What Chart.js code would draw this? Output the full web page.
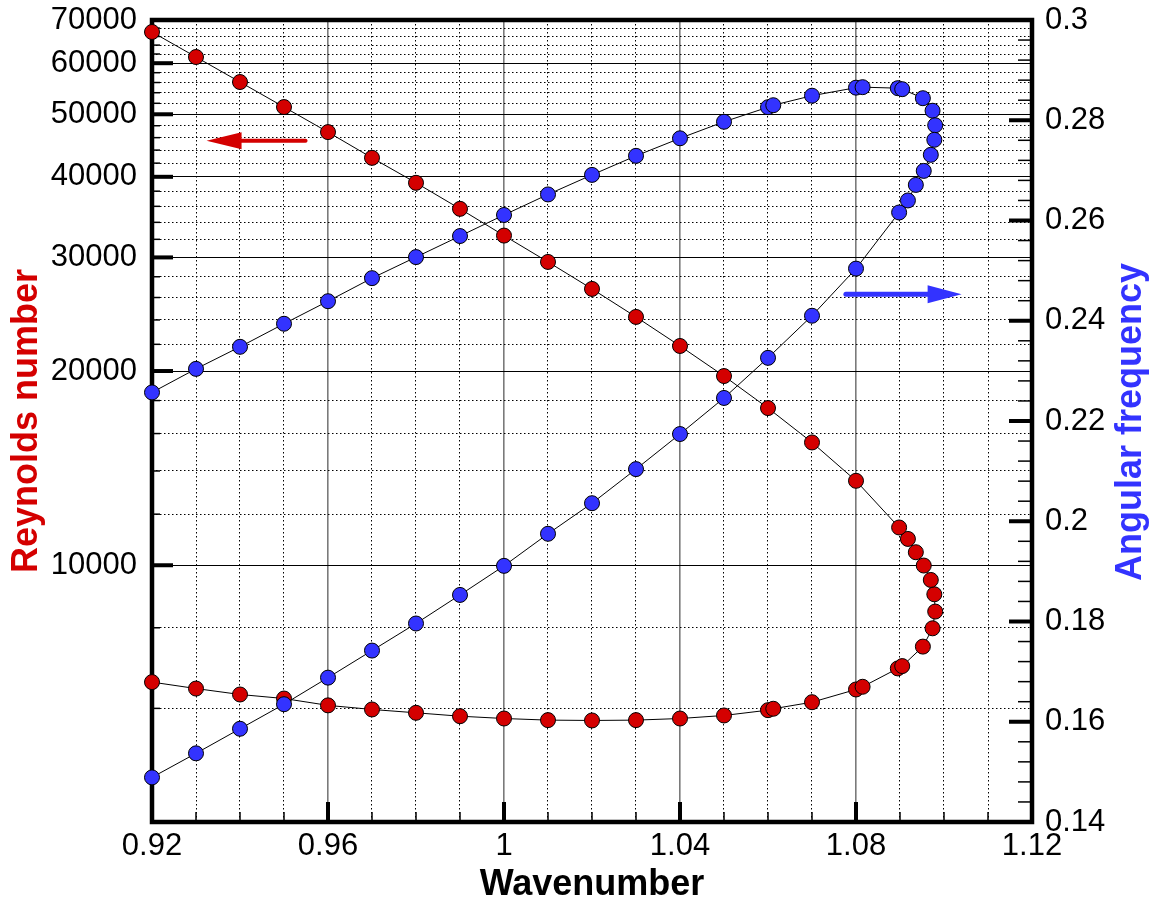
<!DOCTYPE html>
<html>
<head>
<meta charset="utf-8">
<script src="https://cdn.jsdelivr.net/npm/chart.js@4.4.0/dist/chart.umd.min.js"></script>
<style>
  html, body { margin: 0; padding: 0; background: #fff; }
  #wrap { width: 1162px; height: 903px; }
</style>
</head>
<body>
<div id="wrap"><canvas id="chart" width="1162" height="903"></canvas></div>
<script>
// Neutral curve, walked from the low-Re branch at k=0.92, round the nose, back along the high-Re branch
const wavenumber = [
  0.92, 0.93, 0.94, 0.95, 0.96, 0.97, 0.98, 0.99, 1.00, 1.01, 1.02, 1.03, 1.04, 1.05, 1.06, 1.0612, 1.07, 1.08, 1.0815,
  1.0895, 1.0905, 1.0952, 1.0974, 1.0980, 1.0978, 1.0970, 1.0954, 1.0936, 1.0918, 1.0898,
  1.08, 1.07, 1.06, 1.05, 1.04, 1.03, 1.02, 1.01, 1.00, 0.99, 0.98, 0.97, 0.96, 0.95, 0.94, 0.93, 0.92
];
const reynolds = [
  6590, 6440, 6305, 6215, 6065, 5977, 5906, 5835, 5787, 5754, 5747, 5754, 5787, 5850, 5962, 5992, 6134, 6419, 6481,
  6920, 6978, 7480, 7985, 8477, 9016, 9489, 9990, 10476, 10985, 11443,
  13517, 15500, 17523, 19645, 21870, 24260, 26810, 29520, 32430, 35680, 39150, 42800, 46920, 51310, 56100, 61340, 67070
];
const omega = [
  0.2257, 0.2304, 0.2348, 0.2394, 0.2439, 0.2485, 0.2527, 0.2569, 0.2611, 0.2652, 0.2691, 0.2729, 0.2764, 0.2797, 0.2826, 0.2830, 0.2849, 0.2865, 0.2866,
  0.2864, 0.2862, 0.2844, 0.2819, 0.2790, 0.2761, 0.2731, 0.2699, 0.2671, 0.2640, 0.2616,
  0.2504, 0.2410, 0.2326, 0.2246, 0.2174, 0.2104, 0.2036, 0.1975, 0.1911, 0.1853, 0.1796, 0.1742, 0.1688, 0.1635, 0.1586, 0.1537, 0.1489
];

const xLabelTicks = [0.92, 0.96, 1.00, 1.04, 1.08, 1.12];
const xMinorTicks = [0.93, 0.94, 0.95, 0.97, 0.98, 0.99, 1.01, 1.02, 1.03, 1.05, 1.06, 1.07, 1.09, 1.10, 1.11];
const reLabelTicks = [10000, 20000, 30000, 40000, 50000, 60000, 70000];
const reMinorTicks = [4000, 6000, 8000, 12000, 14000, 16000, 18000, 22000, 24000, 26000, 28000,
  32000, 34000, 36000, 38000, 42000, 44000, 46000, 48000, 52000, 54000, 56000, 58000,
  62000, 64000, 66000, 68000];
const omegaLabelTicks = [0.14, 0.16, 0.18, 0.20, 0.22, 0.24, 0.26, 0.28, 0.30];
const omegaMinorStep = 0.004;

const RED = '#d40000';
const BLUE = '#3333ff';
const FONT = "'Liberation Sans', Arial, sans-serif";
const DOTS = [1.5, 2.5];

const near = (list, v) => list.some(m => Math.abs(m - v) < 1e-9);
const omegaMinorTicks = [];
for (let v = 0.14; v < 0.3 + 1e-9; v += omegaMinorStep) {
  if (!near(omegaLabelTicks, v)) omegaMinorTicks.push(+v.toFixed(3));
}
const sorted = a => a.slice().sort((p, q) => p - q);

// fixed box sizes so the plot frame lands where the original has it
const fixBox = (w, h) => s => {
  if (w) s.width = w;
  if (h) s.height = h;
  s.paddingTop = 0; s.paddingBottom = 0; s.paddingLeft = 0; s.paddingRight = 0;
};

// inward ticks + heavy frame, drawn under the markers
const framePlugin = {
  id: 'frame',
  beforeDatasetsDraw(chart) {
    const { ctx, chartArea: a, scales } = chart;
    ctx.save();
    ctx.strokeStyle = '#000';
    ctx.lineCap = 'butt';
    const tick = (x1, y1, x2, y2, w) => {
      ctx.lineWidth = w;
      ctx.beginPath(); ctx.moveTo(x1, y1); ctx.lineTo(x2, y2); ctx.stroke();
    };
    xMinorTicks.forEach(v => { const x = scales.x.getPixelForValue(v); tick(x, a.bottom, x, a.bottom - 10, 1.5); });
    xLabelTicks.forEach(v => { const x = scales.x.getPixelForValue(v); tick(x, a.bottom, x, a.bottom - 20, 4); });
    reMinorTicks.forEach(v => { const y = scales.y.getPixelForValue(v); tick(a.left, y, a.left + 8, y, 1.5); });
    reLabelTicks.forEach(v => { const y = scales.y.getPixelForValue(v); tick(a.left, y, a.left + 21, y, 4); });
    omegaMinorTicks.forEach(v => { const y = scales.y2.getPixelForValue(v); tick(a.right, y, a.right - 14, y, 1.5); });
    omegaLabelTicks.forEach(v => { const y = scales.y2.getPixelForValue(v); tick(a.right, y, a.right - 23, y, 4); });
    ctx.lineWidth = 4.5;
    ctx.strokeRect(a.left, a.top, a.right - a.left, a.bottom - a.top);
    ctx.restore();
  }
};

// direction arrows and the right-hand axis title (reads bottom to top)
const notesPlugin = {
  id: 'notes',
  afterDatasetsDraw(chart) {
    const { ctx, scales, chartArea: a } = chart;
    const arrow = (x0, x1, y, color, shaft, headLen, headHalf) => {
      ctx.save();
      ctx.strokeStyle = color; ctx.fillStyle = color;
      ctx.lineWidth = shaft; ctx.lineCap = 'round';
      const dir = Math.sign(x1 - x0);
      ctx.beginPath(); ctx.moveTo(x0, y); ctx.lineTo(x1 - dir * headLen * 0.8, y); ctx.stroke();
      ctx.beginPath();
      ctx.moveTo(x1, y);
      ctx.lineTo(x1 - dir * headLen, y - headHalf);
      ctx.lineTo(x1 - dir * headLen, y + headHalf);
      ctx.closePath(); ctx.fill();
      ctx.restore();
    };
    const yRe = scales.y.getPixelForValue(45500);
    arrow(scales.x.getPixelForValue(0.9549), scales.x.getPixelForValue(0.9324), yRe, RED, 4, 35, 8.5);
    const yOm = scales.y2.getPixelForValue(0.2453);
    arrow(scales.x.getPixelForValue(1.0777), scales.x.getPixelForValue(1.1040), yOm, BLUE, 5, 34, 9);

    ctx.save();
    ctx.translate(1141, (a.top + a.bottom) / 2 + 1);
    ctx.rotate(-Math.PI / 2);
    ctx.fillStyle = BLUE;
    ctx.font = `bold 36px ${FONT}`;
    ctx.textAlign = 'center';
    ctx.textBaseline = 'alphabetic';
    ctx.fillText('Angular frequency', 0, 0);
    ctx.restore();
  }
};

const pts = vals => wavenumber.map((k, i) => ({ x: k, y: vals[i] }));

new Chart(document.getElementById('chart'), {
  type: 'scatter',
  data: {
    datasets: [
      {
        label: 'Reynolds number',
        data: pts(reynolds),
        yAxisID: 'y',
        showLine: true,
        borderColor: '#000',
        borderWidth: 1,
        pointRadius: 7.5,
        pointBackgroundColor: RED,
        pointBorderColor: '#000',
        pointBorderWidth: 1,
        clip: false,
        order: 1,
      },
      {
        label: 'Angular frequency',
        data: pts(omega),
        yAxisID: 'y2',
        showLine: true,
        borderColor: '#000',
        borderWidth: 1,
        pointRadius: 7.5,
        pointBackgroundColor: BLUE,
        pointBorderColor: '#000',
        pointBorderWidth: 1,
        clip: false,
        order: 0,
      },
    ],
  },
  options: {
    responsive: false,
    devicePixelRatio: 1,
    animation: false,
    events: [],
    layout: { autoPadding: false, padding: { top: 20, left: 0, right: 0, bottom: 0 } },
    plugins: { legend: { display: false }, tooltip: { enabled: false } },
    scales: {
      x: {
        type: 'linear',
        min: 0.92, max: 1.12,
        afterBuildTicks: s => { s.ticks = sorted(xLabelTicks.concat(xMinorTicks)).map(v => ({ value: v })); },
        afterFit: fixBox(0, 81),
        border: {
          display: false,
          dash: c => near(xLabelTicks, c.tick.value) ? [] : DOTS,
        },
        grid: {
          drawTicks: false,
          color: c => near(xLabelTicks, c.tick.value) ? '#7a7a7a' : '#000',
          lineWidth: c => near(xLabelTicks, c.tick.value) ? 1.6 : 1,
        },
        ticks: {
          autoSkip: false,
          maxRotation: 0,
          padding: 6,
          color: '#000',
          font: { family: FONT, size: 31 },
          callback: v => near(xLabelTicks, v) ? String(+v.toFixed(2)) : '',
        },
        title: {
          display: true,
          text: 'Wavenumber',
          color: '#000',
          font: { family: FONT, size: 36, weight: 'bold', lineHeight: 1 },
          padding: { top: 0, bottom: 0 },
        },
      },
      y: {
        type: 'logarithmic',
        position: 'left',
        min: 4000, max: 70000,
        afterBuildTicks: s => { s.ticks = sorted(reLabelTicks.concat(reMinorTicks)).map(v => ({ value: v })); },
        afterFit: fixBox(152, 0),
        border: {
          display: false,
          dash: c => near(reLabelTicks, c.tick.value) ? [] : DOTS,
        },
        grid: {
          drawTicks: false,
          color: '#000',
          lineWidth: 1,
        },
        ticks: {
          autoSkip: false,
          padding: 15,
          color: '#000',
          font: { family: FONT, size: 31 },
          callback: v => near(reLabelTicks, v) ? String(v) : '',
        },
        title: {
          display: true,
          text: 'Reynolds number',
          color: RED,
          font: { family: FONT, size: 36, weight: 'bold', lineHeight: 1 },
          padding: { top: 9, bottom: 0 },
        },
      },
      y2: {
        type: 'linear',
        position: 'right',
        min: 0.14, max: 0.3,
        afterBuildTicks: s => { s.ticks = omegaLabelTicks.map(v => ({ value: v })); },
        afterFit: fixBox(130, 0),
        border: { display: false },
        grid: { drawOnChartArea: false, drawTicks: false },
        ticks: {
          autoSkip: false,
          padding: 13,
          color: '#000',
          font: { family: FONT, size: 31 },
          callback: v => String(+v.toFixed(2)),
        },
      },
    },
  },
  plugins: [framePlugin, notesPlugin],
});
</script>
</body>
</html>
